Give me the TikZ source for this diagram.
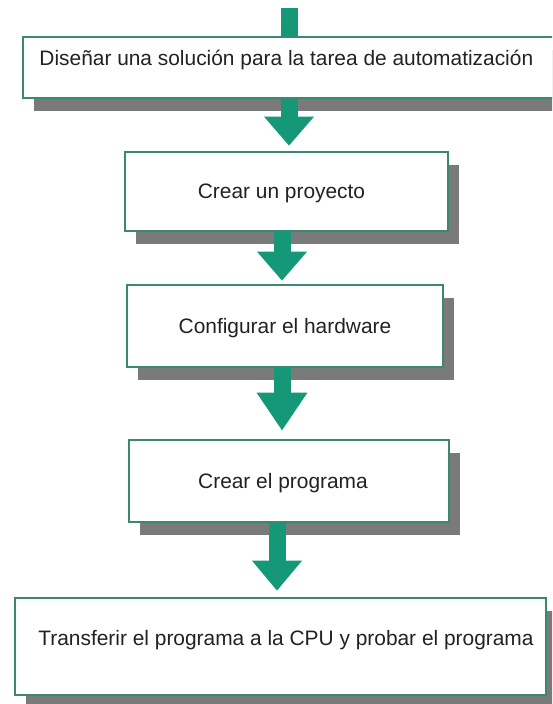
\documentclass[tikz,border=0pt]{standalone}
\usepackage{fontspec}
\setmainfont{Liberation Sans}
\usetikzlibrary{arrows.meta,shadows}
\definecolor{flowgreen}{RGB}{20,152,120}
\definecolor{boxline}{RGB}{60,134,116}
\definecolor{shadowgrey}{RGB}{122,122,122}
\definecolor{textgrey}{RGB}{34,34,34}
\begin{document}
\begin{tikzpicture}[x=1pt,y=-1pt,
  stepbox/.style={draw=boxline, line width=2.6pt, fill=white, inner sep=0pt,
    font=\fontsize{20.9}{24}\selectfont, text=textgrey, text height=15pt,
    drop shadow={shadow xshift=11pt, shadow yshift=-13pt, fill=shadowgrey, opacity=1}},
  stem/.style={draw=flowgreen, line width=17pt},
  flow/.style={stem, -{Triangle[length=#1 0 0, width=48pt 0 0]}},
  flow/.default=30pt,
]
\useasboundingbox (0,0) rectangle (552,704);
\clip (0,0) rectangle (552,704);
\fill[white] (0,0) rectangle (552,704);

% reference columns for the arrows
\coordinate (top) at (289.5,8);
\coordinate (c1) at (289,0);
\coordinate (c2) at (282,0);
\coordinate (c4) at (277,0);

% incoming stem above the first step
\draw[stem] (top) -- (top |- 0,40);

% process steps (the first one runs on past the right margin)
\node[stepbox, minimum width=567pt, minimum height=61pt, text depth=19.4pt]
  (b1) at (306.35,67.5) {Diseñar una solución para la tarea de automatización\hspace*{40pt}};
\node[stepbox, minimum width=323pt, minimum height=79pt, text depth=0.4pt]
  (b2) at (286.5,191.5) {Crear un proyecto\hspace*{10pt}};
\node[stepbox, minimum width=316pt, minimum height=82pt, text depth=0.4pt]
  (b3) at (285,326) {Configurar el hardware};
\node[stepbox, minimum width=320pt, minimum height=82pt, text depth=0.4pt]
  (b4) at (289,481) {Crear el programa\hspace*{12pt}};
\node[stepbox, minimum width=531pt, minimum height=97pt, text depth=16.4pt]
  (b5) at (280.5,646.5) {\hspace*{11pt}Transferir el programa a la CPU y probar el programa};

% flow arrows between the steps
\draw[flow=29pt, shorten >=5pt] (b1.south -| c1) -- (b2.north -| c1);
\draw[flow=29pt, shorten >=3pt] (b2.south -| c2) -- (b3.north -| c2);
\draw[flow=38pt, shorten >=8pt] (b3.south -| c2) -- (b4.north -| c2);
\draw[flow=30pt, shorten >=6pt] (b4.south -| c4) -- (b5.north -| c4);
\end{tikzpicture}
\end{document}
